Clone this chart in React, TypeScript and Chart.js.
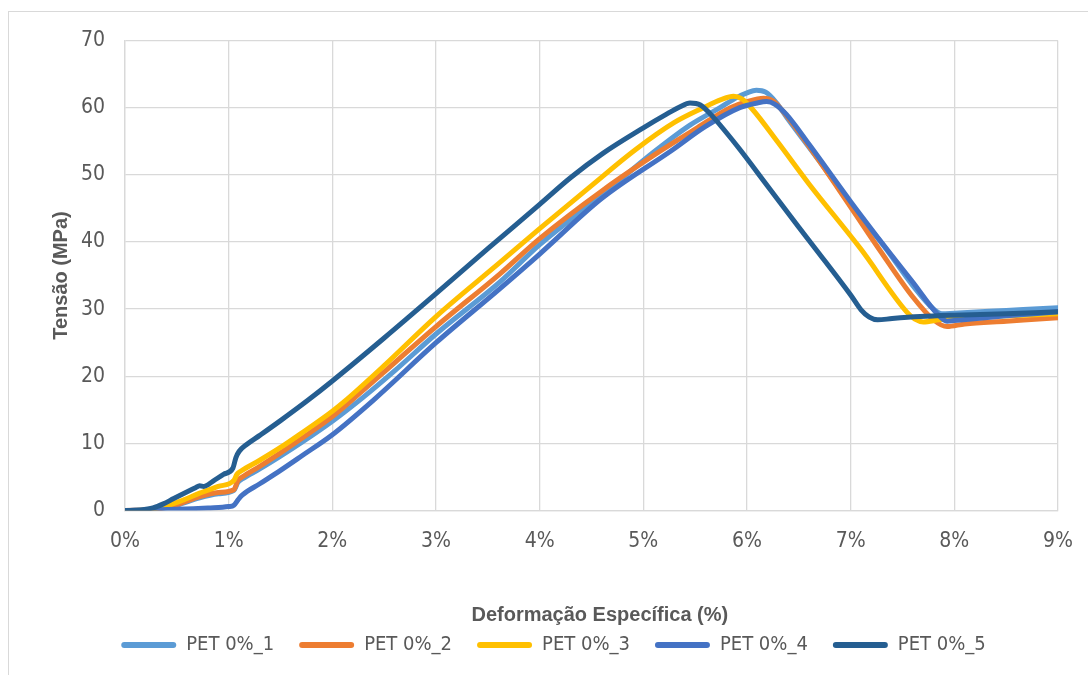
import React, { useEffect, useRef } from "react";
import { Chart, registerables } from "chart.js";

Chart.register(...registerables);

// Strain (%) and stress (MPa)
const x1 = [0, 0.3, 0.5, 0.72, 0.9, 1.05, 1.09, 1.13, 1.3, 1.5, 1.7, 2.0, 2.3, 2.6, 3.0, 3.62, 4.0, 4.6, 5.11, 5.45, 5.74, 5.9, 6.0, 6.09, 6.18, 6.28, 6.4, 6.7, 7.0, 7.34, 7.6, 7.8, 7.88, 8.0, 8.5, 9.0];
const y1 = [0, 0.2, 0.8, 1.9, 2.5, 3.0, 4.2, 4.7, 6.2, 8.1, 10.1, 13.3, 16.9, 20.8, 26.3, 34.1, 39.6, 47.0, 53.5, 57.4, 60.0, 61.5, 62.2, 62.6, 62.3, 60.8, 58.2, 52.0, 45.6, 39.0, 33.5, 30.0, 29.3, 29.4, 29.8, 30.2];

const x2 = [0, 0.3, 0.5, 0.72, 0.9, 1.05, 1.09, 1.13, 1.3, 1.5, 1.7, 2.0, 2.2, 2.6, 3.0, 3.62, 4.0, 4.6, 5.18, 5.5, 5.84, 6.0, 6.16, 6.25, 6.35, 6.6, 7.0, 7.28, 7.6, 7.8, 7.93, 8.1, 8.5, 9.0];
const y2 = [0, 0.2, 0.9, 2.1, 2.7, 3.1, 4.5, 5.0, 6.6, 8.6, 10.7, 14.0, 16.6, 22.0, 27.4, 35.3, 40.5, 47.6, 53.7, 56.8, 60.0, 60.9, 61.4, 61.0, 59.4, 54.2, 45.2, 38.8, 31.8, 28.4, 27.4, 27.8, 28.2, 28.7];

const x3 = [0, 0.2, 0.4, 0.55, 0.72, 0.9, 1.05, 1.08, 1.12, 1.3, 1.5, 1.7, 2.0, 2.12, 2.5, 3.0, 3.62, 4.0, 4.5, 4.92, 5.3, 5.58, 5.75, 5.87, 5.95, 6.05, 6.3, 6.6, 7.1, 7.54, 7.62, 7.7, 7.85, 8.0, 8.5, 9.0];
const y3 = [0, 0.1, 0.7, 1.5, 2.6, 3.6, 4.5, 5.4, 5.9, 7.5, 9.4, 11.5, 14.8, 16.3, 21.6, 28.9, 37.0, 42.0, 48.4, 53.7, 57.8, 60.0, 61.2, 61.7, 61.3, 59.8, 54.8, 48.6, 38.9, 29.6, 28.5, 28.1, 28.4, 28.7, 29.0, 29.3];

const x4 = [0, 0.5, 0.8, 1.0, 1.05, 1.09, 1.13, 1.3, 1.5, 1.7, 2.0, 2.4, 3.0, 3.62, 4.0, 4.6, 5.28, 5.6, 5.93, 6.1, 6.19, 6.27, 6.38, 6.6, 7.0, 7.34, 7.6, 7.83, 7.93, 8.0, 8.5, 9.0];
const y4 = [0, 0.2, 0.4, 0.6, 0.8, 1.6, 2.3, 4.0, 6.0, 8.1, 11.3, 16.5, 25.0, 33.1, 38.2, 46.5, 53.7, 57.2, 60.0, 60.7, 60.9, 60.5, 59.0, 54.5, 46.0, 39.1, 34.0, 29.4, 28.2, 28.3, 29.0, 29.6];

const x5 = [0, 0.15, 0.27, 0.37, 0.47, 0.6, 0.68, 0.72, 0.76, 0.85, 0.95, 1.04, 1.07, 1.1, 1.17, 1.3, 1.5, 1.77, 2.0, 2.5, 3.0, 3.5, 4.0, 4.3, 4.61, 5.0, 5.22, 5.35, 5.45, 5.55, 5.65, 5.8, 5.93, 6.2, 6.5, 6.66, 7.0, 7.1, 7.18, 7.26, 7.4, 7.67, 8.0, 8.5, 9.0];
const y5 = [0, 0.1, 0.4, 1.0, 1.8, 2.8, 3.4, 3.7, 3.6, 4.4, 5.4, 6.3, 7.9, 8.8, 9.8, 11.2, 13.4, 16.5, 19.3, 25.7, 32.3, 39.0, 45.6, 49.6, 53.2, 57.0, 59.0, 60.1, 60.7, 60.4, 59.0, 56.3, 53.8, 48.3, 42.2, 39.0, 32.1, 29.9, 28.8, 28.4, 28.6, 28.9, 29.1, 29.3, 29.6];

const seriesNames = ["PET 0%_1", "PET 0%_2", "PET 0%_3", "PET 0%_4", "PET 0%_5"];
const seriesColors = ["#5B9BD5", "#ED7D31", "#FFC000", "#4472C4", "#255E91"];
const xTitle = "Deformação Específica (%)";
const yTitle = "Tensão (MPa)";

const narrow = "'DejaVu Sans Condensed', 'Liberation Sans Narrow', 'Liberation Sans', sans-serif";
const bold = "'Liberation Sans', Arial, sans-serif";

export default function App() {
  const ref = useRef<HTMLCanvasElement>(null);

  useEffect(() => {
    const xs = [x1, x2, x3, x4, x5];
    const ys = [y1, y2, y3, y4, y5];
    const datasets = xs.map((xv, i) => ({
      label: seriesNames[i],
      data: xv.map((x, j) => ({ x, y: ys[i][j] })),
      borderColor: seriesColors[i],
      backgroundColor: seriesColors[i],
      borderWidth: 5,
      pointRadius: 0,
      cubicInterpolationMode: "monotone" as const,
      order: 4 - i,
      borderCapStyle: "round" as const,
      borderJoinStyle: "round" as const,
    }));

    const chart = new Chart(ref.current!, {
      type: "line",
      data: { datasets },
      options: {
        animation: false,
        responsive: false,
        events: [],
        layout: { padding: { top: 40.5, right: 30, left: 49, bottom: 10 } },
        plugins: {
          tooltip: { enabled: false },
          legend: {
            position: "bottom",
            labels: {
              boxWidth: 55,
              boxHeight: 6,
              padding: 25,
              useBorderRadius: true,
              borderRadius: 3,
              color: "#595959",
              font: { family: narrow, size: 20 },
              generateLabels: (c: any) =>
                c.data.datasets.map((ds: any, i: number) => ({
                  text: ds.label,
                  fillStyle: ds.borderColor,
                  strokeStyle: ds.borderColor,
                  lineWidth: 0,
                  hidden: false,
                  datasetIndex: i,
                  borderRadius: 3,
                  fontColor: "#595959",
                })),
            },
          },
        },
        scales: {
          x: {
            type: "linear",
            min: 0,
            max: 9,
            afterFit: (s: any) => {
              s.height = 99.4;
              s.paddingLeft = 0;
              s.paddingRight = 0;
            },
            ticks: {
              stepSize: 1,
              padding: 18,
              color: "#595959",
              font: { family: narrow, size: 21 },
              callback: (v: any) => v + "%",
            },
            grid: { color: "#d9d9d9", lineWidth: 1.3, drawTicks: false },
            border: { color: "#d9d9d9", width: 1.3 },
            title: {
              display: true,
              text: "   " + xTitle,
              color: "#595959",
              font: { family: bold, size: 20, weight: "bold" },
              padding: { top: 0, bottom: -17 },
            },
          },
          y: {
            type: "linear",
            min: 0,
            max: 70,
            afterFit: (s: any) => {
              s.width = 76;
            },
            ticks: {
              stepSize: 10,
              padding: 20,
              color: "#595959",
              font: { family: narrow, size: 21 },
            },
            grid: { color: "#d9d9d9", lineWidth: 1.3, drawTicks: false },
            border: { color: "#d9d9d9", width: 1.3 },
            title: {
              display: true,
              text: yTitle,
              color: "#595959",
              font: { family: bold, size: 20, weight: "bold" },
              padding: 0,
            },
          },
        },
      },
    });
    return () => chart.destroy();
  }, []);

  return (
    <div>
      <div
        style={{
          position: "fixed",
          left: 8,
          top: 11,
          width: 1200,
          height: 800,
          border: "1px solid #d9d9d9",
          boxSizing: "border-box",
        }}
      />
      <canvas
        ref={ref}
        width={1088}
        height={675}
        style={{ position: "fixed", left: 0, top: 0, width: 1088, height: 675 }}
      />
    </div>
  );
}
